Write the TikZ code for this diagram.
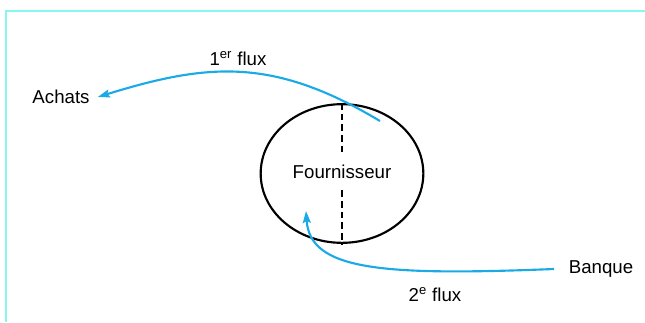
\documentclass[tikz,border=0pt]{standalone}
\usepackage{fontspec}
\setmainfont{Liberation Sans}
\usetikzlibrary{shapes.geometric,arrows.meta,positioning}
\definecolor{flowblue}{HTML}{1BAAE6}
\definecolor{framecyan}{HTML}{86F8F0}

\begin{document}
\begin{tikzpicture}[x=0.75pt,y=-0.75pt,font=\fontsize{14}{16}\selectfont,
  lab/.style={inner sep=0pt},
  flow/.style={flowblue,line width=1.6pt,-{Stealth[length=9pt,width=6pt,inset=1.5pt]}}]
\useasboundingbox (0,0) rectangle (645,322);
\draw[framecyan,line width=1.6pt] (6,322)--(6,11)--(645,11);
\node[draw,ellipse,line width=1.6pt,minimum width=122pt,minimum height=104pt,inner sep=0pt] (fourn) at (342,173.5) {};
\node[lab,inner ysep=8.5pt] (fname) at (342,172) {Fournisseur};
\draw[dashed,line width=0.9pt,dash pattern=on 5pt off 3pt] (fourn.north)--(fname.north) (fname.south)--(fourn.south);
\node[lab] (achats) at (61,97) {Achats};
\node[lab] (banque) at (601,269) {Banque};
\node[lab] (flux1) at (238,59) {1\textsuperscript{er} flux};
\node[lab] (flux2) at (435,295) {2\textsuperscript{e} flux};
\coordinate (out1) at (380,121);
\coordinate (in2) at (306,211);
\draw[flow] (out1) .. controls (273,57) and (208,63) .. ([xshift=6]achats.east);
\draw[flow] ([xshift=-11]banque.west) .. controls (380,276) and (310,270) .. (in2);
\end{tikzpicture}
\end{document}
